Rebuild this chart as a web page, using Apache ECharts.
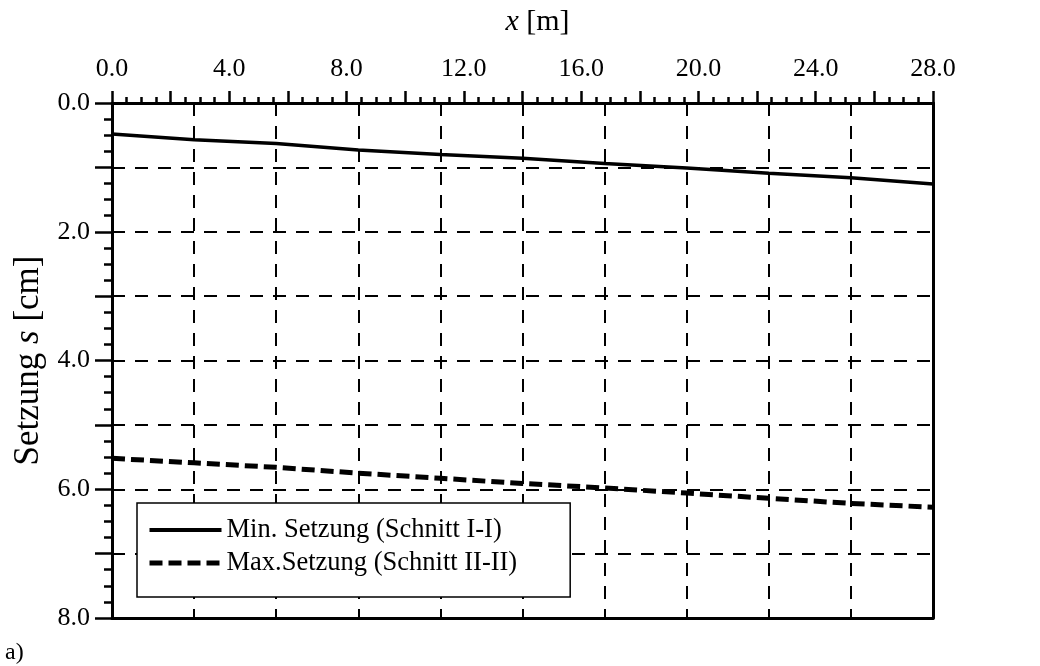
<!DOCTYPE html>
<html>
<head>
<meta charset="utf-8">
<script src="https://cdn.jsdelivr.net/npm/echarts@6/dist/echarts.min.js"></script>
<style>html,body{margin:0;padding:0;background:#fff;}#c{width:1040px;height:666px;}</style>
</head>
<body>
<div id="c"></div>
<script>
// ---- data ----
const xPos = [0, 2.8, 5.6, 8.4, 11.2, 14.0, 16.8, 19.6, 22.4, 25.2, 28.0];
const minSetzung = [0.48, 0.57, 0.63, 0.73, 0.80, 0.86, 0.94, 1.01, 1.09, 1.16, 1.26];
const maxSetzung = [5.52, 5.59, 5.66, 5.75, 5.83, 5.91, 5.98, 6.06, 6.14, 6.22, 6.28];
const seriesNames = ['Min. Setzung (Schnitt I-I)', 'Max.Setzung (Schnitt II-II)'];
const xName = '{i|x} [m]';
const yName = 'Setzung {i|s} [cm]';
const cornerLabel = 'a)';

const FONT = 'Liberation Serif';
const pair = (xs, ys) => xs.map((x, i) => [x, ys[i]]);

const chart = echarts.init(document.getElementById('c'), null, {renderer: 'canvas'});
chart.setOption({
  backgroundColor: '#fff',
  animation: false,
  textStyle: {fontFamily: FONT, color: '#000'},
  title: {
    text: cornerLabel, left: 0, top: 636,
    textStyle: {fontFamily: FONT, fontWeight: 'normal', fontSize: 24, color: '#000'}
  },
  grid: {left: 112, right: 107, top: 103, bottom: 48, outerBoundsMode: 'none', containLabel: false},
  legend: {
    orient: 'vertical', left: 137, top: 503,
    padding: [13, 53, 20, 10],
    itemWidth: 72, itemHeight: 28, itemGap: 5,
    backgroundColor: '#fff', borderColor: '#000', borderWidth: 1.5,
    textStyle: {fontFamily: FONT, fontSize: 26.5, color: '#000', lineHeight: 28},
    data: [
      {name: seriesNames[0], itemStyle: {opacity: 0}, lineStyle: {width: 4, type: 'solid', color: '#000', opacity: 1}},
      {name: seriesNames[1], itemStyle: {opacity: 0}, lineStyle: {width: 5, type: [13, 6], color: '#000', opacity: 1}}
    ]
  },
  xAxis: [
    {
      type: 'value', position: 'top', min: 0, max: 28, interval: 2,
      name: xName, nameLocation: 'middle', nameGap: 66,
      nameTextStyle: {fontFamily: FONT, fontSize: 30, color: '#000', padding: [0, 0, 0, 30],
        rich: {i: {fontFamily: FONT, fontSize: 30, fontStyle: 'italic', color: '#000'}}},
      axisLine: {show: true, onZero: false, lineStyle: {color: '#000', width: 3}},
      axisTick: {show: true, inside: false, length: 12, lineStyle: {color: '#000', width: 2.5}},
      minorTick: {show: true, splitNumber: 4, length: 6, lineStyle: {color: '#000', width: 2.5}},
      axisLabel: {margin: 21, fontFamily: FONT, fontSize: 26, color: '#000',
        formatter: v => (Math.abs(v % 4) < 1e-9 ? v.toFixed(1) : '')},
      splitLine: {show: false}
    },
    {
      type: 'value', position: 'bottom', min: 0, max: 28, interval: 2.8,
      axisLine: {show: true, onZero: false, lineStyle: {color: '#000', width: 3}},
      axisTick: {show: false}, axisLabel: {show: false},
      splitLine: {show: true, lineStyle: {color: '#000', width: 2, type: [13, 10]}}
    }
  ],
  yAxis: [
    {
      type: 'value', position: 'left', inverse: true, min: 0, max: 8, interval: 1,
      name: yName, nameLocation: 'middle', nameGap: 63,
      nameTextStyle: {fontFamily: FONT, fontSize: 35, color: '#000',
        rich: {i: {fontFamily: FONT, fontSize: 35, fontStyle: 'italic', color: '#000'}}},
      axisLine: {show: true, onZero: false, lineStyle: {color: '#000', width: 3}},
      axisTick: {show: true, inside: false, length: 17, lineStyle: {color: '#000', width: 2.5}},
      minorTick: {show: true, splitNumber: 4, length: 8, lineStyle: {color: '#000', width: 2.5}},
      axisLabel: {margin: 22, fontFamily: FONT, fontSize: 26, color: '#000',
        formatter: v => (Math.abs(v % 2) < 1e-9 ? v.toFixed(1) : '')},
      splitLine: {show: true, lineStyle: {color: '#000', width: 2, type: [13, 10]}}
    },
    {
      type: 'value', position: 'right', inverse: true, min: 0, max: 8, interval: 1,
      axisLine: {show: true, onZero: false, lineStyle: {color: '#000', width: 3}},
      axisTick: {show: false}, axisLabel: {show: false}, splitLine: {show: false}
    }
  ],
  series: [
    {
      name: seriesNames[0], type: 'line', xAxisIndex: 0, yAxisIndex: 0,
      data: pair(xPos, minSetzung), symbol: 'none', smooth: false,
      lineStyle: {color: '#000', width: 3.5, type: 'solid'}, itemStyle: {color: '#000'}, z: 5
    },
    {
      name: seriesNames[1], type: 'line', xAxisIndex: 0, yAxisIndex: 0,
      data: pair(xPos, maxSetzung), symbol: 'none', smooth: false,
      lineStyle: {color: '#000', width: 5, type: [13, 6]}, itemStyle: {color: '#000'}, z: 5
    }
  ]
});
</script>
</body>
</html>
